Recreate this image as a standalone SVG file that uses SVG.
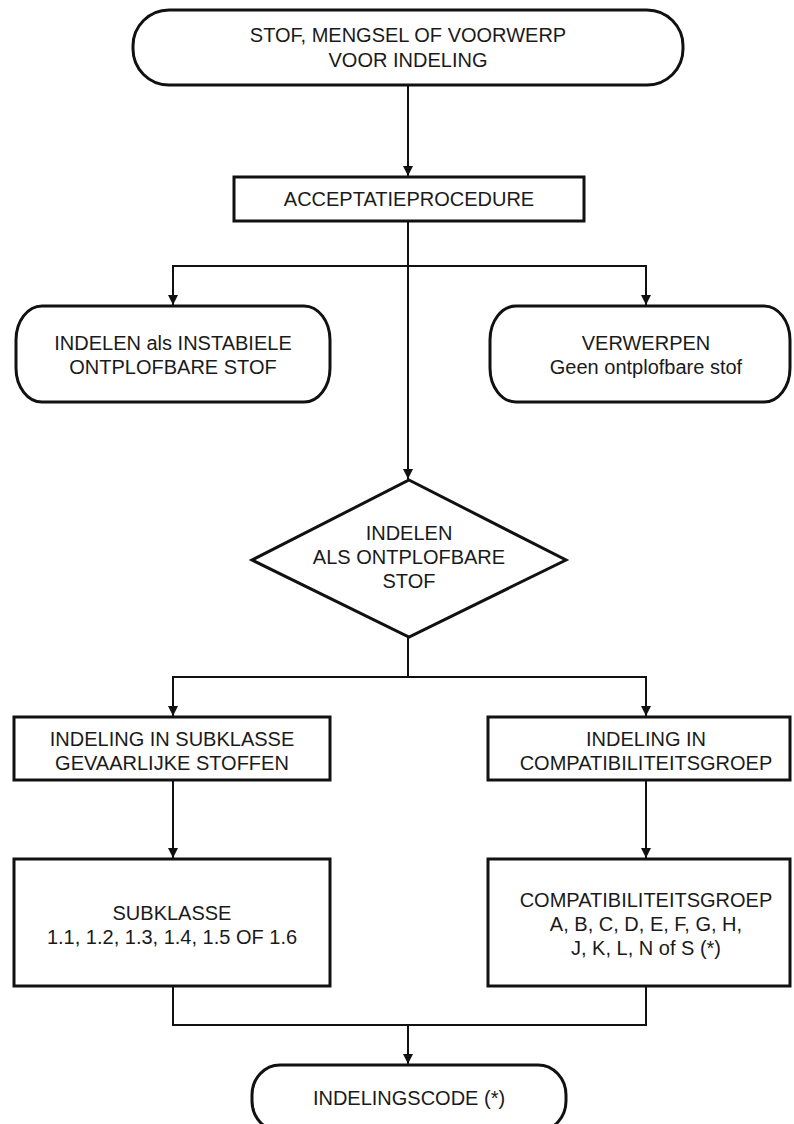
<svg xmlns="http://www.w3.org/2000/svg" width="794" height="1124" viewBox="0 0 794 1124">
<defs>
<marker id="arr" markerWidth="10" markerHeight="12" refX="10" refY="6" orient="auto" markerUnits="userSpaceOnUse">
<path d="M0,1 L10,6 L0,11 Z" fill="#111"/>
</marker>
<style>
.box{fill:#fff;stroke:#111;stroke-width:3}
.ln{fill:none;stroke:#111;stroke-width:2}
text{font-family:"Liberation Sans",Arial,sans-serif;font-size:20px;fill:#1a1a1a;text-anchor:middle}
</style>
</defs>
<rect width="794" height="1124" fill="#fff"/>
<g id="connectors">
<path class="ln" d="M408,85 V176" marker-end="url(#arr)"/>
<path class="ln" d="M408,221 V479" marker-end="url(#arr)"/>
<path class="ln" d="M173,305 V266 H646 V305" marker-end="url(#arr)"/>
<path class="ln" d="M173,266 V305" marker-end="url(#arr)"/>
<path class="ln" d="M408,637 V677"/>
<path class="ln" d="M173,716 V677 H646 V716" marker-end="url(#arr)"/>
<path class="ln" d="M173,677 V716" marker-end="url(#arr)"/>
<path class="ln" d="M173,780 V858" marker-end="url(#arr)"/>
<path class="ln" d="M646,780 V858" marker-end="url(#arr)"/>
<path class="ln" d="M173,986 V1025 H646 V986"/>
<path class="ln" d="M408,1025 V1064" marker-end="url(#arr)"/>
</g>
<g id="start">
<rect class="box" x="133" y="10" width="550" height="75" rx="36" ry="36"/>
<text x="408" y="42">STOF, MENGSEL OF VOORWERP</text>
<text x="408" y="67">VOOR INDELING</text>
</g>
<g id="acceptatie">
<rect class="box" x="234" y="177" width="350" height="44"/>
<text x="409" y="206">ACCEPTATIEPROCEDURE</text>
</g>
<g id="instabiel">
<rect class="box" x="16" y="306" width="314" height="96" rx="26" ry="34"/>
<text x="173" y="350">INDELEN als INSTABIELE</text>
<text x="173" y="374">ONTPLOFBARE STOF</text>
</g>
<g id="verwerpen">
<rect class="box" x="490" y="306" width="300" height="96" rx="26" ry="34"/>
<text x="646" y="350">VERWERPEN</text>
<text x="646" y="374">Geen ontplofbare stof</text>
</g>
<g id="beslissing">
<polygon class="box" points="409,480 566,560 409,637 252,560"/>
<text x="409" y="540">INDELEN</text>
<text x="409" y="564">ALS ONTPLOFBARE</text>
<text x="409" y="588">STOF</text>
</g>
<g id="subklasse-indeling">
<rect class="box" x="14" y="717" width="316" height="63"/>
<text x="172" y="746">INDELING IN SUBKLASSE</text>
<text x="172" y="770">GEVAARLIJKE STOFFEN</text>
</g>
<g id="compat-indeling">
<rect class="box" x="488" y="717" width="302" height="63"/>
<text x="646" y="746">INDELING IN</text>
<text x="646" y="770">COMPATIBILITEITSGROEP</text>
</g>
<g id="subklasse">
<rect class="box" x="14" y="859" width="316" height="127"/>
<text x="172" y="920">SUBKLASSE</text>
<text x="172" y="944">1.1, 1.2, 1.3, 1.4, 1.5 OF 1.6</text>
</g>
<g id="compatgroep">
<rect class="box" x="488" y="859" width="302" height="127"/>
<text x="646" y="907">COMPATIBILITEITSGROEP</text>
<text x="646" y="931">A, B, C, D, E, F, G, H,</text>
<text x="646" y="955">J, K, L, N of S (*)</text>
</g>
<g id="indelingscode">
<rect class="box" x="252" y="1065" width="314" height="66" rx="28" ry="30"/>
<text x="409" y="1105">INDELINGSCODE (*)</text>
</g>
</svg>
